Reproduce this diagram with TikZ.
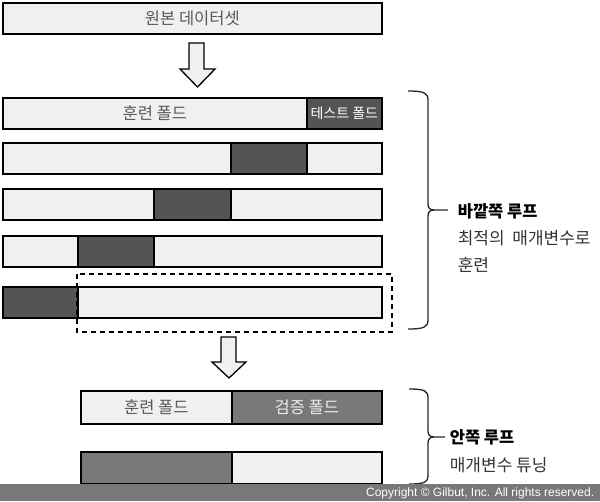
\documentclass[tikz,border=0pt]{standalone}
\usepackage{fontspec}
\setmainfont{Noto Sans CJK KR}
\newfontfamily\copyfont{Liberation Sans}
\usetikzlibrary{positioning}
\definecolor{foldlight}{gray}{0.94}
\definecolor{folddark}{gray}{0.33}
\definecolor{valdark}{gray}{0.47}
\definecolor{foldtext}{gray}{0.35}
\definecolor{bargray}{gray}{0.47}
\tikzstyle{fold}=[rectangle,draw=black,fill=foldlight,inner sep=0mm,anchor=north west,minimum height=31,text=foldtext,font=\fontsize{16.5}{19}\selectfont]
\tikzstyle{testfold}=[fold,fill=folddark,text=white,font=\fontsize{14}{16}\selectfont]
\tikzstyle{valfold}=[fold,fill=valdark,text=white!92!black]
\tikzstyle{bigarrow}=[draw=black,fill=foldlight,line width=1.3]
\tikzstyle{brace}=[draw=black!85,line width=1.3]
\tikzstyle{looptitle}=[anchor=west,inner sep=0mm,font=\bfseries\fontsize{16.5}{19}\selectfont]
\tikzstyle{looptext}=[anchor=west,inner sep=0mm,text=black!80,font=\fontsize{17}{19}\selectfont]
\tikzset{every picture/.style={
    line width=1.7
  }
}

\begin{document}
\begin{tikzpicture}[x=1pt,y=-1pt]
      \useasboundingbox (0,0) rectangle (600,501);
      \node[fold,minimum width=379] at (2,2) (orig) {원본 데이터셋};
      \draw[bigarrow] (189,43) -- (204,43) -- (204,69) -- (215,69) -- (197.5,87) -- (180,69) -- (189,69) -- cycle;
      % outer folds
      \node[fold,minimum width=304] at (2,97) (r1train) {훈련 폴드};
      \node[testfold,minimum width=75] at (306,97) (r1test) {테스트 폴드};
      \node[fold,minimum width=228] at (2,142) (r2a) {};
      \node[testfold,minimum width=76] at (230,142) (r2test) {};
      \node[fold,minimum width=75] at (306,142) (r2b) {};
      \node[fold,minimum width=151] at (2,188) (r3a) {};
      \node[testfold,minimum width=77] at (153,188) (r3test) {};
      \node[fold,minimum width=151] at (230,188) (r3b) {};
      \node[fold,minimum width=75] at (2,235) (r4a) {};
      \node[testfold,minimum width=76] at (77,235) (r4test) {};
      \node[fold,minimum width=228] at (153,235) (r4b) {};
      \node[testfold,minimum width=75] at (2,286) (r5test) {};
      \node[fold,minimum width=304] at (77,286) (r5train) {};
      \draw[dashed,line width=1.3,dash pattern=on 5pt off 4pt] (77,274) rectangle (392,332);
      \draw[brace] (408,91) .. controls (424,91) and (428,93) .. (428,100) -- (428,204)
        .. controls (428,208) and (430,210) .. (434,210) -- (448,210);
      \draw[brace] (434,210) .. controls (430,210) and (428,212) .. (428,216) -- (428,320)
        .. controls (428,327) and (424,329) .. (408,329);
      \node[looptitle] at (457,211) (outer) {바깥쪽 루프};
      \node[looptext] at (457,238) (outer1) {최적의 \ 매개변수로};
      \node[looptext] at (457,265) (outer2) {훈련};
      \draw[bigarrow] (221,337) -- (236,337) -- (236,362) -- (246,362) -- (229,378) -- (212,362) -- (221,362) -- cycle;
      % inner folds
      \node[fold,minimum width=151,minimum height=33] at (80,390) (i1train) {훈련 폴드};
      \node[valfold,minimum width=150,minimum height=33] at (231,390) (i1val) {검증 폴드};
      \node[valfold,minimum width=151,minimum height=32] at (80,451) (i2val) {};
      \node[fold,minimum width=150,minimum height=32] at (231,451) (i2train) {};
      \draw[brace] (409,389) .. controls (425,389) and (428,391) .. (428,398) -- (428,431)
        .. controls (428,435) and (430,437) .. (434,437) -- (445,437);
      \draw[brace] (434,437) .. controls (430,437) and (428,439) .. (428,443) -- (428,476)
        .. controls (428,482) and (425,484) .. (409,484);
      \node[looptitle] at (449,437) (inner) {안쪽 루프};
      \node[looptext] at (449,465) (inner1) {매개변수 튜닝};
      \fill[bargray] (0,484) rectangle (600,501);
      \node[anchor=east,inner sep=0mm,text=white,font=\copyfont\fontsize{12}{14}\selectfont] at (595,493) (copy) {Copyright © Gilbut, Inc. All rights reserved.};
    \end{tikzpicture}
\end{document}
